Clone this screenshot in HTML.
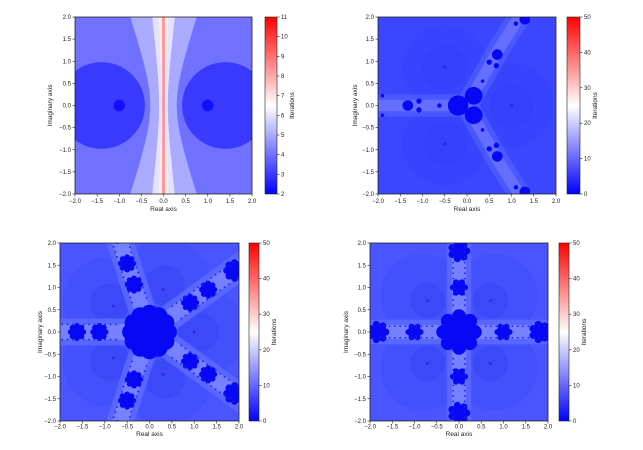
<!DOCTYPE html>
<html><head><meta charset="utf-8"><style>
html,body{margin:0;padding:0;background:#fff;width:643px;height:450px;overflow:hidden}
text{font-family:"Liberation Sans",sans-serif;fill:#222}
</style></head><body>
<svg id="s" width="643" height="450" xmlns="http://www.w3.org/2000/svg">
<defs>
<linearGradient id="bwr" x1="0" y1="1" x2="0" y2="0">
<stop offset="0" stop-color="#0000ff"/><stop offset="0.5" stop-color="#ffffff"/><stop offset="1" stop-color="#ff0000"/>
</linearGradient>
</defs>
</svg>
<script>
var S=document.getElementById('s');var NS='http://www.w3.org/2000/svg';
function el(t,a,p){var e=document.createElementNS(NS,t);for(var k in a)e.setAttribute(k,a[k]);(p||S).appendChild(e);return e;}
function txt(x,y,s,sz,anchor,rot){var a={x:x,y:y,'font-size':sz,'text-anchor':anchor||'middle'};if(rot)a.transform='rotate(-90 '+x+' '+y+')';var e=el('text',a);e.textContent=s;return e;}
function panel(ax,cb,vmax,vmin,ticks,ylx,xly,tko,draw,id){
 var x0=ax[0],y0=ax[1],w=ax[2],h=ax[3];
 var cp=el('clipPath',{id:'c'+id});el('rect',{x:-2,y:-2,width:4,height:4},cp);
 var sv=el('svg',{x:x0,y:y0,width:w,height:h,viewBox:'-2 -2 4 4',preserveAspectRatio:'none'});
 var g=el('g',{transform:'scale(1,-1)','clip-path':'url(#c'+id+')'},sv);
 draw(g);
 el('rect',{x:x0,y:y0,width:w,height:h,fill:'none',stroke:'#222','stroke-width':0.8});
 var labs=['\u22122.0','\u22121.5','\u22121.0','\u22120.5','0.0','0.5','1.0','1.5','2.0'];
 for(var i=0;i<9;i++){var tx=x0+w*i/8;el('line',{x1:tx,y1:y0+h,x2:tx,y2:y0+h+2.5,stroke:'#222','stroke-width':0.6});txt(tx,y0+h+tko,labs[i],6);
  var ty=y0+h-h*i/8;el('line',{x1:x0,y1:ty,x2:x0-2.5,y2:ty,stroke:'#222','stroke-width':0.6});txt(x0-4,ty+2,labs[i],6,'end');}
 txt(x0+w/2,xly,'Real axis',6.5);txt(ylx,y0+h/2,'Imaginary axis',6.5,'middle',true);
 el('rect',{x:cb[0],y:y0,width:cb[1],height:h,fill:'url(#bwr)',stroke:'#222','stroke-width':0.6});
 ticks.forEach(function(t){var ty=y0+h-(t-vmin)/(vmax-vmin)*h;el('line',{x1:cb[0]+cb[1],y1:ty,x2:cb[0]+cb[1]+2.5,y2:ty,stroke:'#222','stroke-width':0.6});txt(cb[0]+cb[1]+4,ty+2,String(t),6,'start');});
 txt(cb[0]+cb[1]+17,y0+h/2,'Iterations',6.5,'middle',true);
}
function C(g,x,y,r,f){el('circle',{cx:x,cy:y,r:r,fill:f},g);}
function R(g,f){el('rect',{x:-2,y:-2,width:4,height:4,fill:f},g);}
function hyp(g,a,b,f){var pts=[];for(var y=-2.1;y<=2.11;y+=0.05){pts.push((a*Math.sqrt(1+y*y/(b*b)))+','+y);}for(var y=2.1;y>=-2.11;y-=0.05){pts.push((-a*Math.sqrt(1+y*y/(b*b)))+','+y);}el('polygon',{points:pts.join(' '),fill:f},g);}
function flower(g,x,y,r,n,f){C(g,x,y,r*0.78,f);for(var i=0;i<n;i++){var a=2*Math.PI*i/n;C(g,x+r*0.7*Math.cos(a),y+r*0.7*Math.sin(a),r*0.32,f);}}
function band(g,pts,w,f,op){el('polyline',{points:pts.map(function(p){return p.join(',')}).join(' '),fill:'none',stroke:f,'stroke-width':w,'stroke-linecap':'round','stroke-linejoin':'round',opacity:op||1},g);}
var DK='#0808f5';
panel([75,17,177,177],[265,12],11,2,[2,3,4,5,6,7,8,9,10,11],52,211,9,function(g){
 R(g,'#7171ff');
 C(g,-1.4,0,0.98,'#3a3aff');C(g,1.4,0,0.98,'#3a3aff');
 C(g,-1,0,0.13,'#1010ff');C(g,1,0,0.13,'#1010ff');
 hyp(g,0.3,0.87,'#aaaaff');hyp(g,0.1,0.85,'#e3e3ff');hyp(g,0.045,0.9,'#ffe8e8');
 el('rect',{x:-0.03,y:-2.1,width:0.06,height:4.2,fill:'#ff9090'},g);
},1);
panel([378,17,178,177],[567,13],50,0,[0,10,20,30,40,50],357,211,9,function(g){
 R(g,'#3c46ff');
 [[1,0],[-0.5,0.866],[-0.5,-0.866]].forEach(function(p){C(g,p[0],p[1],0.95,'#3843fd');C(g,p[0],p[1],0.5,'#3440fb');C(g,p[0],p[1],0.04,'#2a2ae8');});
 var arms=[[[0,0],[-2.2,0]],[[0,0],[0.45,0.8],[0.7,1.25],[1.3,2.2]],[[0,0],[0.45,-0.8],[0.7,-1.25],[1.3,-2.2]]];
 arms.forEach(function(a){band(g,a,0.5,'#4f5cff',0.8);band(g,a,0.26,'#6a76ff',0.8);});
 C(g,-0.2,0,0.23,DK);C(g,0.15,0.22,0.2,DK);C(g,0.15,-0.22,0.2,DK);
 [1,-1].forEach(function(s){
  C(g,0.68,1.15*s,0.12,DK);C(g,0.5,0.98*s,0.06,DK);C(g,0.66,0.9*s,0.06,DK);
  C(g,1.3,1.95*s,0.12,DK);C(g,1.1,1.85*s,0.05,DK);
  C(g,-1.08,0.1*s,0.06,DK);C(g,0.35,0.55*s,0.04,DK);C(g,-1.9,0.22*s,0.04,DK);
 });
 C(g,-1.33,0,0.12,DK);C(g,-0.62,0,0.05,DK);
},2);
panel([60,243,179,178],[249,10],50,0,[0,10,20,30,40,50],42,436,7.5,function(g){
 R(g,'#4a55ff');
 for(var k=0;k<5;k++){var a=2*Math.PI*k/5;var x=Math.cos(a),y=Math.sin(a);C(g,1.15*x,1.15*y,1.0,'#4550fd');C(g,1.1*x,1.1*y,0.45,'#3d48f9');C(g,x,y,0.03,'#2a2ad8');}
 for(var k=0;k<5;k++){var a=Math.PI/5+2*Math.PI*k/5;var x=Math.cos(a),y=Math.sin(a);
  var pts=[[0,0],[3*x,3*y]];band(g,pts,0.6,'#5e6bff',0.8);band(g,pts,0.35,'#7c88ff',0.8);
  flower(g,1.12*x,1.12*y,0.2,8,DK);flower(g,1.62*x,1.62*y,0.2,8,DK);flower(g,2.35*x,2.35*y,0.25,8,DK);
  for(var d=0.75;d<2.5;d+=0.12){C(g,d*x+0.17*y,d*y-0.17*x,0.02,'#2020f0');C(g,d*x-0.17*y,d*y+0.17*x,0.02,'#2020f0');}
 }
 flower(g,0,0,0.6,12,DK);
},3);
panel([370,243,178,178],[559,10],50,0,[0,10,20,30,40,50],348,436,7.5,function(g){
 R(g,'#4a55ff');
 for(var k=0;k<4;k++){var a=Math.PI/4+Math.PI/2*k;var x=Math.cos(a),y=Math.sin(a);C(g,1.15*x,1.15*y,0.95,'#4550fd');C(g,1.0*x,1.0*y,0.4,'#3d48f9');C(g,x,y,0.03,'#2a2ad8');}
 for(var k=0;k<4;k++){var a=Math.PI/2*k;var x=Math.cos(a),y=Math.sin(a);
  var pts=[[0,0],[3*x,3*y]];band(g,pts,0.55,'#5e6bff',0.8);band(g,pts,0.32,'#7c88ff',0.8);
  flower(g,x,y,0.2,6,DK);flower(g,1.82*x,1.82*y,0.25,7,DK);
  for(var d=0.6;d<2.2;d+=0.12){C(g,d*x+0.13*y,d*y-0.13*x,0.02,'#2020f0');C(g,d*x-0.13*y,d*y+0.13*x,0.02,'#2020f0');}
 }
 flower(g,0,0,0.5,8,DK);
},4);
</script>
</body></html>
